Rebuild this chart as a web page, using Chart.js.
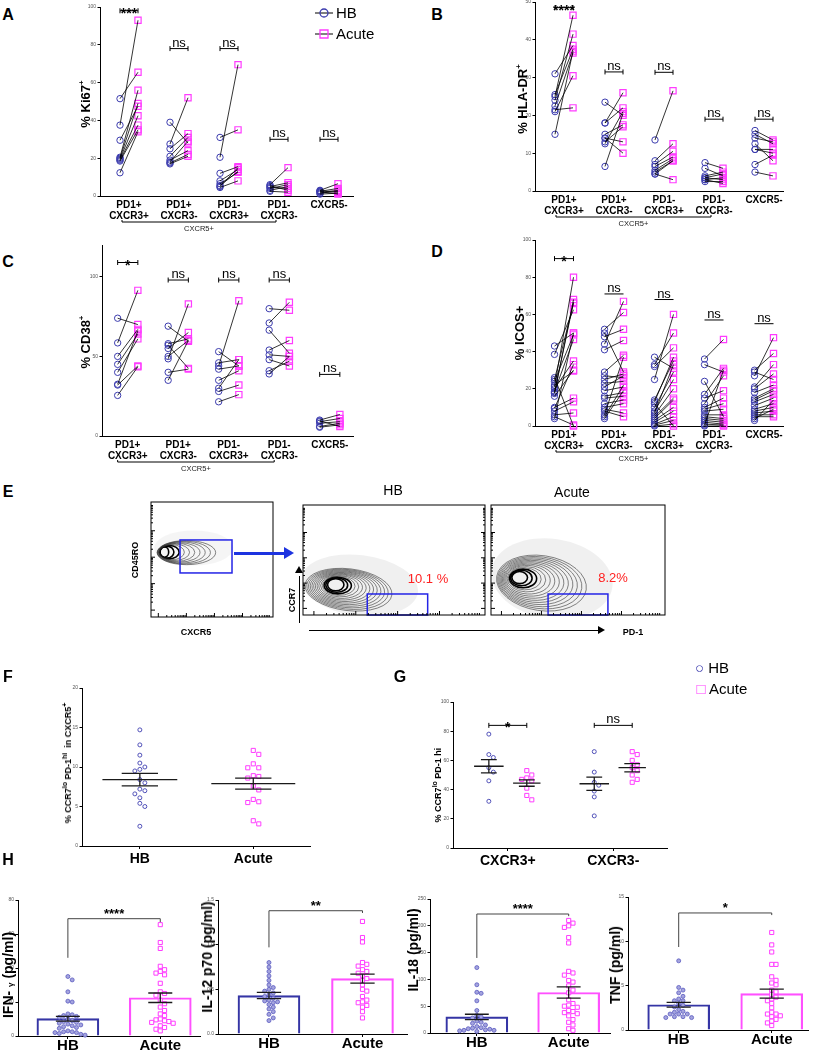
<!DOCTYPE html>
<html>
<head>
<meta charset="utf-8">
<script src="https://cdn.jsdelivr.net/npm/chart.js@4.4.1/dist/chart.umd.min.js"></script>
<style>
body { margin: 0; background: #fff; width: 818px; height: 1050px; position: relative; overflow: hidden; font-family: "Liberation Sans", Arial, sans-serif; }
canvas { position: absolute; }
.t { position: absolute; white-space: nowrap; color: #000; line-height: 1; }
.ln { position: absolute; }
</style>
</head>
<body>
<script>
Chart.defaults.font.family = '"Liberation Sans", Arial, sans-serif';
Chart.defaults.color = '#000';
Chart.defaults.plugins.legend.display = false;
Chart.defaults.plugins.tooltip.enabled = false;

var BLUE = '#3c3cae', PINK = '#ff3cff';

// ---------- data ----------
var subsetLabels = [['PD1+', 'CXCR3+'], ['PD1+', 'CXCR3-'], ['PD1-', 'CXCR3+'], ['PD1-', 'CXCR3-'], ['CXCR5-']];
var groups = ['HB', 'Acute'];

// A  % Ki67+  (HB[i][j] paired with Acute[i][j])
var ki67HB = [
  [51.5, 37.5, 29.5, 20.5, 20, 19.5, 19, 18.5, 12.3],
  [39, 27.5, 25, 21, 19, 18, 17.5, 17],
  [31, 20.5, 12, 8, 6.5, 5, 4.5, 5.5],
  [6, 5, 4, 3, 2.5, 4.5, 5.5],
  [3, 2.5, 2, 1.5, 1, 2.8, 2.2]
];
var ki67Acute = [
  [65.5, 93, 47.5, 56, 49, 42.5, 37.5, 35, 34],
  [28, 52, 33, 31, 24, 29, 22, 21],
  [35, 69.5, 15.5, 14, 12.5, 15, 8, 13],
  [15, 7, 6, 5, 2, 4, 3],
  [6.5, 4, 3, 2.5, 1.5, 2, 1]
];
var ki67Sig = [{c: 0, y: 98, t: '***'}, {c: 1, y: 78, t: 'ns'}, {c: 2, y: 78, t: 'ns'}, {c: 3, y: 30, t: 'ns'}, {c: 4, y: 30, t: 'ns'}];

// B  % HLA-DR+
var hladrHB = [
  [31, 25.5, 25, 24, 22.5, 21.5, 21, 15],
  [23.5, 18, 18, 15, 14, 14, 13, 12.5, 6.5],
  [13.5, 8, 7, 6.5, 5.5, 5, 4.5, 4.5],
  [7.5, 6, 4, 3.5, 3.5, 3, 3, 2.5],
  [16, 15, 14, 12.5, 11, 11, 7, 5]
];
var hladrAcute = [
  [38.5, 37.5, 46.5, 41.5, 36.5, 22, 30.5, 37],
  [20, 22, 26, 17.5, 13, 10, 17, 21, 20.5],
  [26.5, 12.5, 10.5, 9, 8.5, 8, 3, 8],
  [6, 4, 5, 4.5, 3, 3.5, 2, 2.5],
  [13.5, 12.5, 13, 8, 11, 10, 9.5, 4]
];
var hladrSig = [{c: 0, y: 48.5, t: '****'}, {c: 1, y: 31.5, t: 'ns'}, {c: 2, y: 31.4, t: 'ns'}, {c: 3, y: 19, t: 'ns'}, {c: 4, y: 19, t: 'ns'}];

// C  % CD38+
var cd38HB = [
  [74, 58.5, 50, 45, 40, 32.5, 32, 25.5],
  [69, 58, 57, 55, 50, 48.5, 40, 35],
  [53, 46, 44, 42, 35, 30, 28, 21.5],
  [80, 71, 66.5, 54, 51, 48, 41, 39],
  [10, 9, 8, 6, 5.5, 9.5]
];
var cd38Acute = [
  [70, 91.5, 67, 64, 61, 66, 44, 43.5],
  [59.5, 61, 42.5, 65, 60, 83, 42, 60],
  [44, 48, 85, 44, 41, 48, 32, 26],
  [79, 84, 52, 60, 50, 44, 47, 50],
  [13.5, 11, 9, 8, 7, 6]
];
var cd38Sig = [{c: 0, y: 109, t: '*'}, {c: 1, y: 98, t: 'ns'}, {c: 2, y: 98, t: 'ns'}, {c: 3, y: 98, t: 'ns'}, {c: 4, y: 38.7, t: 'ns'}];

// D  % ICOS+
var icosHB = [
  [43, 38.5, 26, 25, 24, 21, 20, 18.5, 17.5, 16, 10, 9.5, 8, 6, 5, 4, 18, 22],
  [52, 50, 48, 44, 41, 29, 27, 25, 23, 21, 19, 16, 15, 12, 10, 9, 8, 6, 5, 4],
  [37, 33, 32, 25, 14, 13, 10, 8, 6, 5, 4, 3, 2, 1, 0.5, 0, 12, 7],
  [36, 33, 24, 17, 15, 12, 10, 9, 8, 6, 5, 4, 3, 2, 1, 0.5, 0],
  [30, 29, 27, 21, 20, 18, 15, 14, 13, 11, 9, 8, 7, 6, 5, 4, 3]
];
var icosAcute = [
  [50, 62.5, 0, 66, 49, 80, 35, 46.5, 68, 30, 15, 33, 13, 7, 0.5, 50, 66.5, 29.5],
  [61, 29, 52, 67, 46, 38, 26, 28, 24, 27, 21, 18, 16, 14, 12, 7, 5, 37, 22, 19],
  [31, 50, 42, 60, 35, 37, 29, 25, 20, 15, 14, 10, 8, 5, 3, 1, 0, 33],
  [46.5, 29, 5, 31, 19, 27, 15, 12, 9, 6, 4, 3, 2, 1, 0.5, 30, 0],
  [39, 25, 47.5, 33, 28, 22, 20, 19, 17, 15, 12, 10, 8, 6, 5, 9, 14]
];
var icosSig = [{c: 0, y: 90, t: '*', cap: true}, {c: 1, y: 71, t: 'ns'}, {c: 2, y: 68, t: 'ns'}, {c: 3, y: 57, t: 'ns'}, {c: 4, y: 55, t: 'ns'}];

// E  flow plots (contours / gates in 0-1000 channel units)
var flowContours = [
  {outer: [290, 560, 240, 105], inner: [110, 565, 35, 45], n: 10, rot: 0, halo: 0.04},
  {outer: [250, 230, 240, 190], inner: [180, 275, 45, 55], n: 14, rot: 0.12, halo: 0.06},
  {outer: [290, 290, 260, 250], inner: [165, 340, 45, 55], n: 14, rot: 0.15, halo: 0.06}
];
var flowGates = [[238, 664, 383, 670], [353, 685, 0, 191], [328, 672, 0, 191]];
var flowPercent = ['10.1 %', '8.2%'];
var flowDecades = [60, 290, 520, 750];

// F  % CCR7lo PD-1hi in CXCR5+
var fHB = [14.7, 12.8, 11.5, 10.5, 10, 9.7, 9.5, 8.4, 8, 7.2, 7, 6.6, 6.1, 5.4, 5, 2.5];
var fAcute = [12.1, 11.6, 10.4, 9.9, 9.9, 8.9, 8.8, 8.6, 7.6, 7.1, 5.9, 5.6, 5.5, 3.2, 2.8];
var fMean = [8.4, 7.9];
var fSem = [0.8, 0.7];

// G  % CCR7lo PD-1hi by CXCR3
var gCats = ['CXCR3+', 'CXCR3-'];
var gHB = [[78, 64, 62, 55, 52, 46, 32], [66, 52, 45, 43, 39, 35, 22]];
var gAcute = [[53, 50, 48, 47, 46, 41, 36, 33], [66, 64, 60, 57, 55, 53, 50, 47, 45]];
var gMean = [[56, 44.5], [44, 55]];
var gSem = [[4.5, 2.2], [4.5, 2.8]];
var gSig = ['*', 'ns'];

// H  cytokines
var ifnHB = [35, 33, 26, 20.5, 20, 13, 12.5, 12, 11.5, 11, 10, 9, 8.5, 8, 7.5, 7, 6.5, 6, 5.5, 5, 4.5, 3, 2.5, 2.5, 2, 2, 1.5, 1, 0.5];
var ifnAcute = [65.5, 55, 51.5, 41, 39, 38, 37, 36, 31, 26, 25, 24, 21, 19, 17, 15, 13, 12, 10, 9.5, 9, 8.5, 8, 7.5, 6, 5, 4, 3];
var ifnMean = [10.2, 22.5], ifnSem = [1.4, 2.8];

var il12HB = [0.8, 0.75, 0.7, 0.65, 0.6, 0.55, 0.52, 0.5, 0.48, 0.46, 0.44, 0.42, 0.4, 0.38, 0.37, 0.36, 0.35, 0.33, 0.3, 0.28, 0.25, 0.22, 0.18, 0.15];
var il12Acute = [1.26, 1.08, 1.03, 0.8, 0.78, 0.76, 0.72, 0.7, 0.68, 0.65, 0.62, 0.6, 0.55, 0.5, 0.48, 0.42, 0.38, 0.36, 0.35, 0.32, 0.3, 0.25, 0.18];
var il12Mean = [0.43, 0.62], il12Sem = [0.035, 0.05];

var il18HB = [122, 90, 76, 74, 60, 42, 33, 30, 28, 22, 20, 18, 15, 12, 10, 9, 8, 7, 6, 5, 5, 4, 3];
var il18Acute = [210, 205, 200, 197, 178, 168, 115, 112, 108, 98, 95, 88, 80, 75, 62, 55, 52, 50, 48, 42, 40, 38, 36, 32, 25, 20, 15, 8, 5];
var il18Mean = [30, 75.5], il18Sem = [5, 10.5];

var tnfHB = [7.8, 4.8, 4.5, 4.2, 3.8, 3.5, 3.3, 3.3, 3, 2.8, 2.6, 2.3, 2.1, 2, 1.8, 1.8, 1.8, 1.5, 1.5, 1.4, 1.4];
var tnfAcute = [11, 9.6, 8.8, 7.4, 7.4, 6, 5.6, 5.3, 5.1, 4.5, 4.3, 4, 3.7, 3.5, 3.3, 3, 2.5, 2, 1.8, 1.8, 1.6, 1.5, 1.2, 1, 0.8, 0.5];
var tnfMean = [2.85, 4.1], tnfSem = [0.27, 0.5];

// ---------- helpers ----------
function place(g, cfg) {
  var pad = 50, wy = g.wy, hx = g.hx;
  var c = document.createElement('canvas');
  var w = g.R - g.L + 2 * pad, h = g.B - g.T + 2 * pad;
  c.width = w; c.height = h;
  c.style.left = (g.L - pad) + 'px'; c.style.top = (g.T - pad) + 'px';
  c.style.width = w + 'px'; c.style.height = h + 'px';
  document.body.appendChild(c);
  cfg.options.responsive = false;
  cfg.options.animation = false;
  cfg.options.layout = {padding: {left: pad - wy, right: pad, top: pad, bottom: pad - hx}};
  return new Chart(c, cfg);
}

function xScale(g, ticks, labels, font, marks, pad) {
  return {
    type: 'linear', min: g.x0, max: g.x1, offset: false,
    afterBuildTicks: function (s) { s.ticks = ticks.map(function (v) { return {value: v}; }); },
    ticks: {autoSkip: false, maxRotation: 0, padding: pad === undefined ? 2 : pad, font: font,
      callback: function (v) { return labels[ticks.indexOf(v)]; }},
    grid: {display: marks, drawOnChartArea: false, tickLength: 3, color: '#000', offset: false},
    border: {color: '#000', width: 1},
    afterFit: function (s) { s.height = g.hx; }
  };
}

function yScale(g, ticks, fmt) {
  return {
    type: 'linear', min: g.y0, max: g.y1,
    afterBuildTicks: function (s) { s.ticks = ticks.map(function (v) { return {value: v}; }); },
    ticks: {autoSkip: false, padding: 1.5, font: {size: 5}, color: '#555',
      callback: fmt || function (v) { return v; }},
    grid: {drawOnChartArea: false, tickLength: 2.5, color: '#000'},
    border: {color: '#000', width: 1},
    afterFit: function (s) { s.width = g.wy; }
  };
}

function pairSets(hb, ac, off) {
  var line = [], h = [], a = [];
  hb.forEach(function (vals, i) {
    vals.forEach(function (v, j) {
      h.push({x: i - off, y: v});
      a.push({x: i + off, y: ac[i][j]});
      line.push({x: i - off, y: v}, {x: i + off, y: ac[i][j]}, {x: i, y: null});
    });
  });
  return [
    {type: 'line', data: line, borderColor: '#000', borderWidth: 0.8, pointRadius: 0, spanGaps: false, order: 0, clip: false},
    {data: h, pointStyle: 'circle', pointRadius: 3.2, borderColor: BLUE, pointBorderColor: BLUE,
      pointBackgroundColor: 'rgba(0,0,0,0)', pointBorderWidth: 1, order: 1, clip: false},
    {data: a, pointStyle: 'rect', pointRadius: 4.4, borderColor: PINK, pointBorderColor: PINK,
      pointBackgroundColor: 'rgba(0,0,0,0)', pointBorderWidth: 1.2, order: 1, clip: false}
  ];
}

function sigPlugin(items, off, caps) {
  return {id: 'sig', afterDatasetsDraw: function (chart) {
    var ctx = chart.ctx, xs = chart.scales.x, ys = chart.scales.y;
    ctx.save();
    ctx.strokeStyle = '#000'; ctx.fillStyle = '#000'; ctx.lineWidth = 1; ctx.textAlign = 'center';
    items.forEach(function (b) {
      var x0 = xs.getPixelForValue(b.c - off), x1 = xs.getPixelForValue(b.c + off), py = ys.getPixelForValue(b.y);
      ctx.beginPath(); ctx.moveTo(x0, py); ctx.lineTo(x1, py);
      if (caps || b.cap) { ctx.moveTo(x0, py - 2.5); ctx.lineTo(x0, py + 2.5); ctx.moveTo(x1, py - 2.5); ctx.lineTo(x1, py + 2.5); }
      ctx.stroke();
      var star = b.t.charAt(0) === '*';
      ctx.font = star ? 'bold 14px "Liberation Sans", Arial' : '13px "Liberation Sans", Arial';
      ctx.fillText(b.t, (x0 + x1) / 2, star ? py + 7 : py - 2);
    });
    ctx.restore();
  }};
}

function groupPlugin(x0, x1, dy) {
  return {id: 'grp', afterDraw: function (chart) {
    var ctx = chart.ctx, xs = chart.scales.x, a = chart.chartArea;
    var p0 = xs.getPixelForValue(x0), p1 = xs.getPixelForValue(x1), py = a.bottom + dy;
    ctx.save();
    ctx.strokeStyle = '#000'; ctx.lineWidth = 1;
    ctx.beginPath(); ctx.moveTo(p0, py - 2); ctx.lineTo(p0, py); ctx.lineTo(p1, py); ctx.lineTo(p1, py - 2); ctx.stroke();
    ctx.fillStyle = '#222'; ctx.font = '7.5px "Liberation Sans", Arial'; ctx.textAlign = 'center'; ctx.textBaseline = 'top';
    ctx.fillText('CXCR5+', (p0 + p1) / 2, py + 3);
    ctx.restore();
  }};
}

function legendPlugin() {
  return {id: 'lgd', afterDraw: function (chart) {
    var ctx = chart.ctx, a = chart.chartArea, x = a.right - 38, y = a.top + 6;
    ctx.save();
    ctx.font = '15px "Liberation Sans", Arial'; ctx.textBaseline = 'middle'; ctx.fillStyle = '#000';
    groups.forEach(function (name, i) {
      var yy = y + i * 21;
      ctx.strokeStyle = '#000'; ctx.lineWidth = 1;
      ctx.beginPath(); ctx.moveTo(x, yy); ctx.lineTo(x + 18, yy); ctx.stroke();
      ctx.strokeStyle = i ? PINK : BLUE; ctx.lineWidth = 1.3;
      ctx.beginPath();
      if (i) ctx.rect(x + 5, yy - 4, 8, 8); else ctx.arc(x + 9, yy, 4, 0, 2 * Math.PI);
      ctx.stroke();
      ctx.fillText(name, x + 21, yy + 1);
    });
    ctx.restore();
  }};
}

function pairChart(g, hb, ac, yTicks, sig, caps, extra) {
  var plugins = [sigPlugin(sig, g.off, caps)];
  if (g.grp) plugins.push(groupPlugin(g.grp[0], g.grp[1], g.grp[2]));
  if (extra) plugins.push(extra);
  return place(g, {
    type: 'scatter',
    data: {datasets: pairSets(hb, ac, g.off)},
    options: {scales: {
      x: xScale(g, [0, 1, 2, 3, 4], subsetLabels, {size: 10, weight: 'bold', lineHeight: 1.1}, false, 1),
      y: yScale(g, yTicks)
    }},
    plugins: plugins
  });
}

function swarm(vals, cx, g, r) {
  var pxY = (g.B - g.T) / (g.y1 - g.y0), pxX = (g.R - g.L) / (g.x1 - g.x0);
  var placed = [];
  return vals.map(function (v) {
    var py = v * pxY, dx = 0;
    for (var k = 0; k < 80; k++) {
      dx = (k % 2 ? 1 : -1) * Math.ceil(k / 2) * r;
      if (placed.every(function (p) { return (p[0] - dx) * (p[0] - dx) + (p[1] - py) * (p[1] - py) >= r * r; })) break;
    }
    placed.push([dx, py]);
    return {x: cx + dx / pxX, y: v};
  });
}

function meanPlugin(items) {
  return {id: 'msem', afterDatasetsDraw: function (chart) {
    var ctx = chart.ctx, xs = chart.scales.x, ys = chart.scales.y;
    ctx.save(); ctx.strokeStyle = '#1a1a1a'; ctx.lineWidth = 1.3;
    items.forEach(function (it) {
      var cx = xs.getPixelForValue(it.x), ym = ys.getPixelForValue(it.m);
      var yh = ys.getPixelForValue(it.m + it.s), yl = ys.getPixelForValue(it.m - it.s);
      var mw = xs.getPixelForValue(it.x + it.mw) - cx, cw = xs.getPixelForValue(it.x + it.cw) - cx;
      ctx.beginPath();
      if (mw > 0) { ctx.moveTo(cx - mw, ym); ctx.lineTo(cx + mw, ym); }
      ctx.moveTo(cx, yh); ctx.lineTo(cx, yl);
      ctx.moveTo(cx - cw, yh); ctx.lineTo(cx + cw, yh);
      ctx.moveTo(cx - cw, yl); ctx.lineTo(cx + cw, yl);
      ctx.stroke();
    });
    ctx.restore();
  }};
}

function hBracketPlugin(b) {
  return {id: 'hbr', afterDatasetsDraw: function (chart) {
    var ctx = chart.ctx, xs = chart.scales.x, ys = chart.scales.y;
    var x0 = xs.getPixelForValue(0), x1 = xs.getPixelForValue(1);
    var yt = ys.getPixelForValue(b.yt);
    ctx.save(); ctx.strokeStyle = '#444'; ctx.lineWidth = 1;
    ctx.beginPath();
    ctx.moveTo(x0, ys.getPixelForValue(b.yl)); ctx.lineTo(x0, yt); ctx.lineTo(x1, yt); ctx.lineTo(x1, ys.getPixelForValue(b.yr));
    ctx.stroke();
    ctx.fillStyle = '#000'; ctx.font = 'bold 13px "Liberation Sans", Arial'; ctx.textAlign = 'center';
    ctx.fillText(b.t, (x0 + x1) / 2, yt - 1);
    ctx.restore();
  }};
}

function cytoChart(g, hb, ac, mean, sem, yTicks, fmt, br) {
  return place(g, {
    type: 'bar',
    data: {datasets: [
      {type: 'bar', data: [{x: 0, y: mean[0]}, {x: 1, y: mean[1]}], barThickness: 62,
        backgroundColor: 'rgba(255,255,255,0)', borderColor: ['#3535a5', '#ff50ff'], borderWidth: 1.5, order: 3},
      {type: 'scatter', data: swarm(hb, 0, g, 4.3), pointStyle: 'circle', pointRadius: 2,
        pointBackgroundColor: '#a4a4de', pointBorderColor: '#5a5ac0', pointBorderWidth: 0.8, order: 2, clip: false},
      {type: 'scatter', data: swarm(ac, 1, g, 4.3), pointStyle: 'rect', pointRadius: 2.9,
        pointBackgroundColor: '#fff', pointBorderColor: PINK, pointBorderWidth: 1, order: 1, clip: false}
    ]},
    options: {scales: {
      x: xScale(g, [0, 1], groups, {size: 15, weight: 'bold', lineHeight: 1}, true, -1),
      y: yScale(g, yTicks, fmt)
    }},
    plugins: [meanPlugin([{x: 0, m: mean[0], s: sem[0], mw: 0, cw: 0.13}, {x: 1, m: mean[1], s: sem[1], mw: 0, cw: 0.13}]),
      hBracketPlugin(br)]
  });
}

function flowPlugin(spec, gate, rightTicks) {
  return {id: 'flow', afterDatasetsDraw: function (chart) {
    var ctx = chart.ctx, a = chart.chartArea, xs = chart.scales.x, ys = chart.scales.y;
    var kx = (a.right - a.left) / 1000, ky = (a.bottom - a.top) / 1000;
    var o = spec.outer, i0 = spec.inner;
    ctx.save();
    ctx.beginPath(); ctx.rect(a.left, a.top, a.right - a.left, a.bottom - a.top); ctx.clip();
    ctx.fillStyle = 'rgba(0,0,0,' + spec.halo + ')';
    ctx.beginPath();
    ctx.ellipse(xs.getPixelForValue(o[0] + 60), ys.getPixelForValue(o[1] + 40), o[2] * 1.35 * kx, o[3] * 1.45 * ky, spec.rot, 0, 2 * Math.PI);
    ctx.fill();
    for (var k = 0; k < spec.n; k++) {
      var t = k / (spec.n - 1);
      var cx = i0[0] + (o[0] - i0[0]) * t, cy = i0[1] + (o[1] - i0[1]) * t;
      var rx = i0[2] + (o[2] - i0[2]) * t, ry = i0[3] + (o[3] - i0[3]) * t;
      ctx.beginPath();
      ctx.ellipse(xs.getPixelForValue(cx), ys.getPixelForValue(cy), rx * kx, ry * ky, spec.rot * t, 0, 2 * Math.PI);
      ctx.strokeStyle = k < 3 ? '#000' : '#333'; ctx.lineWidth = k < 3 ? 1.6 : 0.6;
      ctx.stroke();
    }
    ctx.restore();
    ctx.save();
    ctx.strokeStyle = '#2424e6'; ctx.lineWidth = 1.5;
    ctx.strokeRect(xs.getPixelForValue(gate[0]), ys.getPixelForValue(gate[3]),
      xs.getPixelForValue(gate[1]) - xs.getPixelForValue(gate[0]), ys.getPixelForValue(gate[2]) - ys.getPixelForValue(gate[3]));
    ctx.strokeStyle = '#000'; ctx.lineWidth = 1;
    ctx.strokeRect(a.left, a.top, a.right - a.left, a.bottom - a.top);
    ctx.beginPath();
    flowDecades.forEach(function (d) {
      for (var m = 1; m < 10; m++) {
        var p = d + 230 * Math.log10(m), len = m === 1 ? 4 : 2;
        var px = xs.getPixelForValue(p), py = ys.getPixelForValue(p);
        ctx.moveTo(a.left, py); ctx.lineTo(a.left + len, py);
        ctx.moveTo(px, a.bottom); ctx.lineTo(px, a.bottom - len);
        if (rightTicks) { ctx.moveTo(a.right, py); ctx.lineTo(a.right - len, py); }
      }
    });
    ctx.stroke();
    ctx.restore();
  }};
}

function flowChart(g, spec, gate, rightTicks) {
  return place(g, {
    type: 'scatter',
    data: {datasets: []},
    options: {scales: {
      x: {type: 'linear', min: 0, max: 1000, display: false},
      y: {type: 'linear', min: 0, max: 1000, display: false}
    }},
    plugins: [flowPlugin(spec, gate, rightTicks)]
  });
}

function label(html, x, y, css, rot) {
  var d = document.createElement('div');
  d.className = 't';
  d.innerHTML = html;
  d.style.cssText += 'left:' + x + 'px;top:' + y + 'px;' + (css || '') +
    'transform:translate(-50%,-50%)' + (rot ? ' rotate(-90deg)' : '') + ';';
  document.body.appendChild(d);
}

function bar(x, y, w, h, color) {
  var d = document.createElement('div');
  d.className = 'ln';
  d.style.cssText = 'left:' + x + 'px;top:' + y + 'px;width:' + w + 'px;height:' + h + 'px;background:' + color + ';';
  document.body.appendChild(d);
}

function head(x, y, dir, size, color) {
  var d = document.createElement('div');
  d.className = 'ln';
  var s = 'left:' + x + 'px;top:' + y + 'px;width:0;height:0;';
  if (dir === 'right') s += 'border-left:' + (size * 1.6) + 'px solid ' + color + ';border-top:' + size + 'px solid transparent;border-bottom:' + size + 'px solid transparent;';
  else s += 'border-bottom:' + (size * 1.6) + 'px solid ' + color + ';border-left:' + size + 'px solid transparent;border-right:' + size + 'px solid transparent;';
  d.style.cssText = s;
  document.body.appendChild(d);
}

// ---------- panels A-D ----------
pairChart({L: 100, T: 7, R: 353, B: 196, x0: -0.58, x1: 4.48, y0: 0, y1: 100, off: 0.18, wy: 18, hx: 30, grp: [-0.14, 2.94, 26]},
  ki67HB, ki67Acute, [0, 20, 40, 60, 80, 100], ki67Sig, true, legendPlugin());
pairChart({L: 535, T: 2, R: 783, B: 191, x0: -0.58, x1: 4.38, y0: 0, y1: 50, off: 0.18, wy: 18, hx: 30, grp: [-0.16, 2.94, 26]},
  hladrHB, hladrAcute, [0, 10, 20, 30, 40, 50], hladrSig, true);
pairChart({L: 102, T: 245, R: 353, B: 436, x0: -0.51, x1: 4.46, y0: 0, y1: 120, off: 0.2, wy: 18, hx: 30, grp: [-0.2, 2.9, 26]},
  cd38HB, cd38Acute, [0, 50, 100], cd38Sig, true);
pairChart({L: 535, T: 240, R: 783, B: 426, x0: -0.58, x1: 4.38, y0: 0, y1: 100, off: 0.19, wy: 18, hx: 30, grp: [-0.16, 2.94, 26]},
  icosHB, icosAcute, [0, 20, 40, 60, 80, 100], icosSig, false);

// ---------- panel E ----------
flowChart({L: 151, T: 502, R: 273, B: 617, wy: 0, hx: 0}, flowContours[0], flowGates[0], false);
flowChart({L: 303, T: 505, R: 485, B: 615, wy: 0, hx: 0}, flowContours[1], flowGates[1], true);
flowChart({L: 491, T: 505, R: 665, B: 615, wy: 0, hx: 0}, flowContours[2], flowGates[2], false);

// ---------- panel F ----------
(function () {
  var g = {L: 82, T: 688, R: 310, B: 846, x0: -0.51, x1: 1.5, y0: 0, y1: 20, wy: 18, hx: 22};
  place(g, {
    type: 'scatter',
    data: {datasets: [
      {data: swarm(fHB, 0, g, 5), pointStyle: 'circle', pointRadius: 2, pointBorderColor: '#5050b8',
        pointBackgroundColor: 'rgba(0,0,0,0)', pointBorderWidth: 1, clip: false},
      {data: swarm(fAcute, 1, g, 5.5), pointStyle: 'rect', pointRadius: 2.9, pointBorderColor: PINK,
        pointBackgroundColor: 'rgba(0,0,0,0)', pointBorderWidth: 1, clip: false}
    ]},
    options: {scales: {
      x: xScale(g, [0, 1], groups, {size: 14, weight: 'bold'}, true),
      y: yScale(g, [0, 5, 10, 15, 20])
    }},
    plugins: [meanPlugin([{x: 0, m: fMean[0], s: fSem[0], mw: 0.33, cw: 0.16}, {x: 1, m: fMean[1], s: fSem[1], mw: 0.37, cw: 0.16}])]
  });
})();

// ---------- panel G ----------
(function () {
  var g = {L: 453, T: 702, R: 667, B: 848, x0: -0.52, x1: 1.51, y0: 0, y1: 100, wy: 18, hx: 22};
  var off = 0.18, hbPts = [], acPts = [], ms = [];
  gCats.forEach(function (c, i) {
    hbPts = hbPts.concat(swarm(gHB[i], i - off, g, 4.5));
    acPts = acPts.concat(swarm(gAcute[i], i + off, g, 5));
    ms.push({x: i - off, m: gMean[i][0], s: gSem[i][0], mw: 0.14, cw: 0.075});
    ms.push({x: i + off, m: gMean[i][1], s: gSem[i][1], mw: 0.13, cw: 0.075});
  });
  place(g, {
    type: 'scatter',
    data: {datasets: [
      {data: hbPts, pointStyle: 'circle', pointRadius: 2, pointBorderColor: '#5050b8',
        pointBackgroundColor: 'rgba(0,0,0,0)', pointBorderWidth: 1, clip: false},
      {data: acPts, pointStyle: 'rect', pointRadius: 2.9, pointBorderColor: PINK,
        pointBackgroundColor: 'rgba(0,0,0,0)', pointBorderWidth: 1, clip: false}
    ]},
    options: {scales: {
      x: xScale(g, [0, 1], gCats, {size: 14, weight: 'bold'}, true),
      y: yScale(g, [0, 20, 40, 60, 80, 100])
    }},
    plugins: [meanPlugin(ms), sigPlugin([{c: 0, y: 84, t: gSig[0]}, {c: 1, y: 84, t: gSig[1]}], off, true)]
  });
})();

// ---------- panel H ----------
cytoChart({L: 18, T: 900, R: 200, B: 1036, x0: -0.54, x1: 1.43, y0: 0, y1: 80, wy: 16, hx: 14},
  ifnHB, ifnAcute, ifnMean, ifnSem, [0, 20, 40, 60, 80], null, {yl: 46, yt: 69, yr: 67, t: '****'});
cytoChart({L: 218, T: 900, R: 407, B: 1034, x0: -0.545, x1: 1.476, y0: 0, y1: 1.5, wy: 16, hx: 14},
  il12HB, il12Acute, il12Mean, il12Sem, [0, 0.5, 1, 1.5], function (v) { return v.toFixed(1); }, {yl: 0.97, yt: 1.38, yr: 1.355, t: '**'});
cytoChart({L: 430, T: 899, R: 610, B: 1033, x0: -0.51, x1: 1.45, y0: 0, y1: 250, wy: 16, hx: 14},
  il18HB, il18Acute, il18Mean, il18Sem, [0, 50, 100, 150, 200, 250], null, {yl: 140, yt: 222, yr: 218, t: '****'});
cytoChart({L: 628, T: 897, R: 808, B: 1030, x0: -0.545, x1: 1.39, y0: 0, y1: 15, wy: 16, hx: 14},
  tnfHB, tnfAcute, tnfMean, tnfSem, [0, 5, 10, 15], null, {yl: 9.36, yt: 13.2, yr: 12.96, t: '*'});

// ---------- text ----------
var L17 = 'font-weight:bold;font-size:16px;';
label('A', 8, 15, L17); label('B', 437, 15, L17); label('C', 8, 262, L17); label('D', 437, 252, L17);
label('E', 8, 492, L17); label('F', 8, 677, L17); label('G', 400, 677, L17); label('H', 8, 860, L17);

var YT = 'font-weight:bold;font-size:13px;';
label('% Ki67<sup style="font-size:8px">+</sup>', 85, 104, YT, true);
label('% HLA-DR<sup style="font-size:8px">+</sup>', 522, 99, YT, true);
label('% CD38<sup style="font-size:8px">+</sup>', 85, 342, YT, true);
label('% ICOS+', 519, 333, YT, true);

var SM = 'font-weight:bold;font-size:9px;';
label('% CCR7<sup style="font-size:7px">lo</sup> PD-1<sup style="font-size:7px">hi</sup> &nbsp;in CXCR5<sup style="font-size:7px">+</sup>', 67, 763, SM, true);
label('% CCR7<sup style="font-size:7px">lo</sup> PD-1 hi', 437, 785, SM, true);

var HT = 'font-weight:bold;font-size:14px;';
label('IFN- <span style="font-size:8px">γ</span> (pg/ml)', 8, 975, HT, true);
label('IL-12 p70 (pg/ml)', 207, 957, HT, true);
label('IL-18 (pg/ml)', 413, 950, HT, true);
label('TNF (pg/ml)', 615, 965, HT, true);

label('<span style="color:' + BLUE + '">○</span> HB', 712, 667, 'font-size:15px;');
label('<span style="color:' + PINK + '">□</span> Acute', 722, 688, 'font-size:15px;');

// E annotations
label('CD45RO', 135, 560, SM, true);
label('CXCR5', 196, 632, SM);
label('HB', 393, 490, 'font-size:14px;');
label('Acute', 572, 492, 'font-size:14px;');
label('CCR7', 292, 600, SM, true);
label('PD-1', 633, 632, SM);
label(flowPercent[0], 428, 578, 'font-size:13px;color:#ff2020;');
label(flowPercent[1], 613, 577, 'font-size:13px;color:#ff2020;');
bar(234, 552, 52, 3, '#1d33e0'); head(284, 547, 'right', 6.5, '#1d33e0');
bar(299, 576, 1, 47, '#000'); head(295, 566, 'up', 4.5, '#000');
bar(309, 630, 292, 1, '#000'); head(598, 626, 'right', 4.5, '#000');
</script>
</body>
</html>
